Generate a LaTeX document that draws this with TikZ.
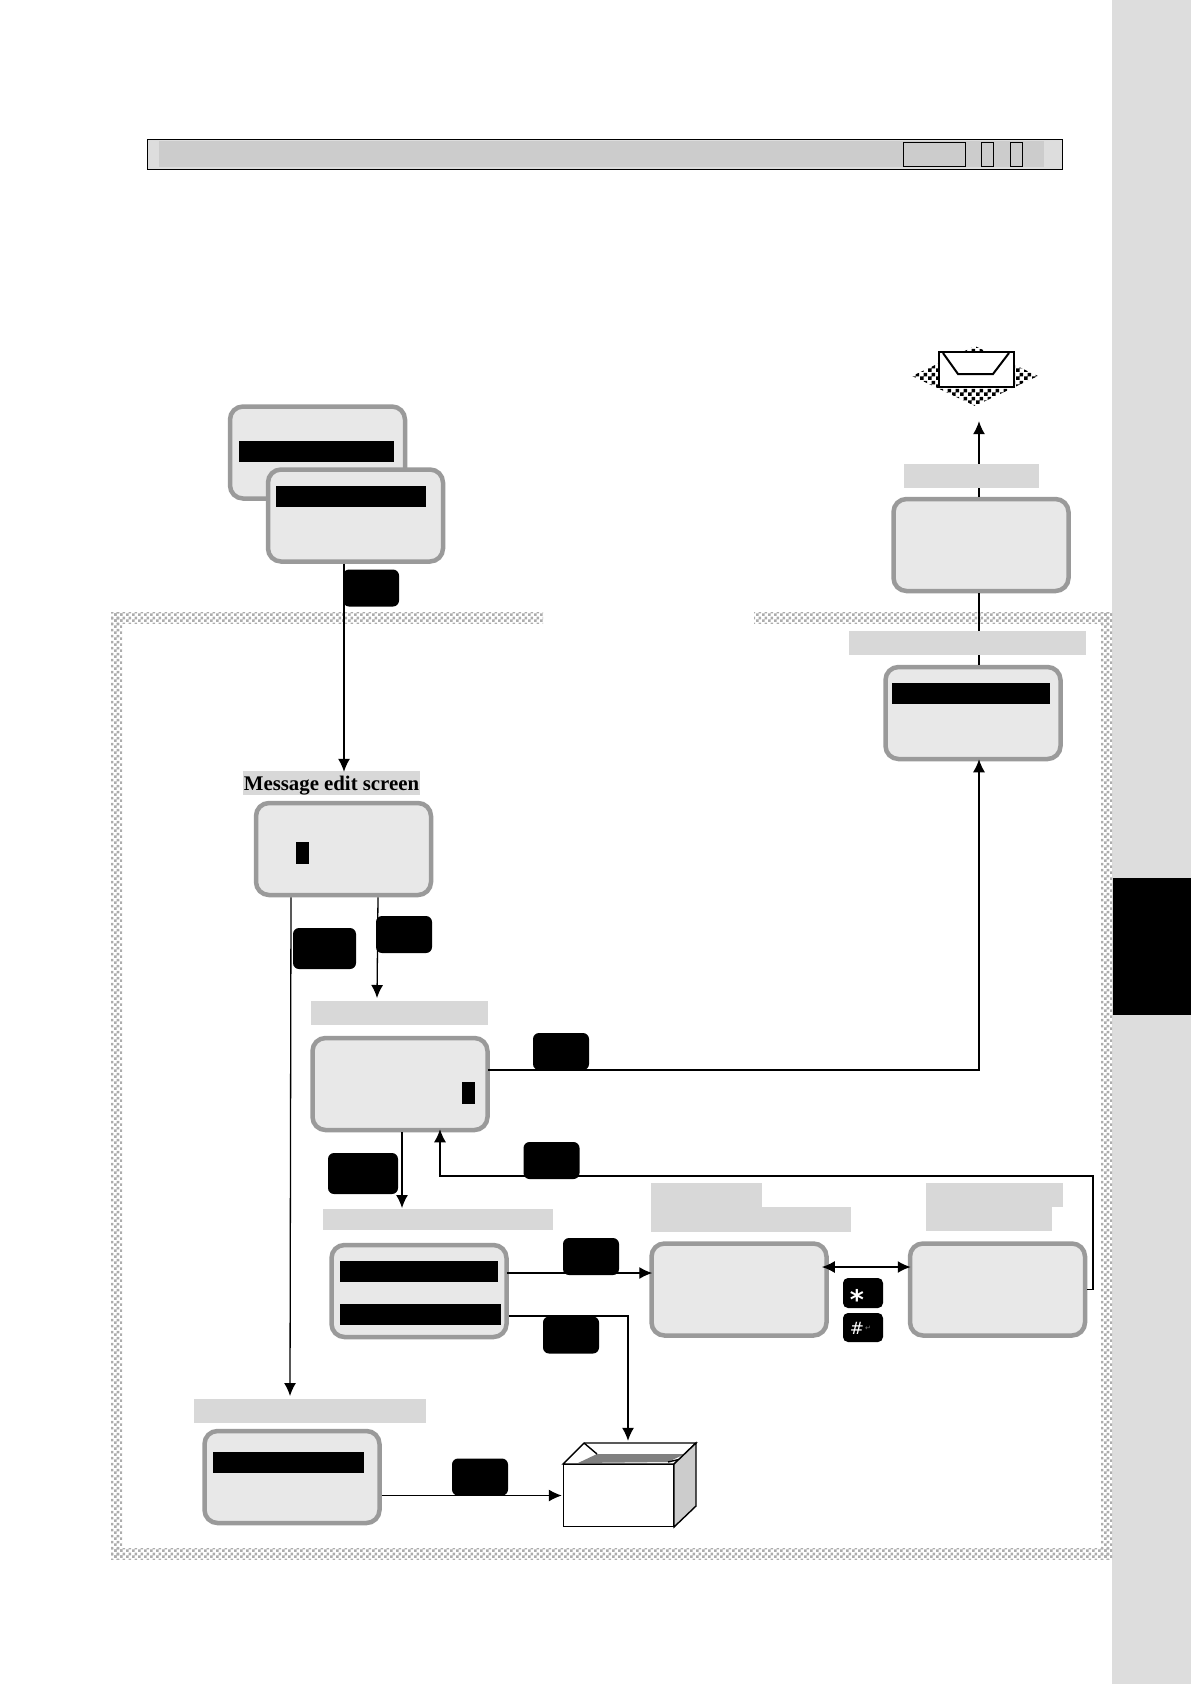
\documentclass[tikz,border=0pt]{standalone}
\usepackage{fontspec}
\setmainfont{Liberation Serif}
\newfontfamily\symbfont{DejaVu Sans}
\usepackage{tikz}
\usetikzlibrary{shapes.geometric,arrows.meta,positioning,patterns}
\definecolor{myscreen}{RGB}{232,232,232}
\definecolor{myrim}{RGB}{154,154,154}
\definecolor{mylabel}{RGB}{216,216,216}
\definecolor{mybar}{RGB}{204,204,204}
\definecolor{myside}{RGB}{221,221,221}
\pgfdeclarepatternformonly{fineboard}{\pgfqpoint{0pt}{0pt}}{\pgfqpoint{6pt}{6pt}}{\pgfqpoint{6pt}{6pt}}{
  \pgfpathrectangle{\pgfqpoint{0pt}{0pt}}{\pgfqpoint{3pt}{3pt}}
  \pgfpathrectangle{\pgfqpoint{3pt}{3pt}}{\pgfqpoint{3pt}{3pt}}
  \pgfusepath{fill}
}
\pgfdeclarepatternformonly{coarseboard}{\pgfqpoint{0pt}{0pt}}{\pgfqpoint{8pt}{8pt}}{\pgfqpoint{8pt}{8pt}}{
  \pgfpathrectangle{\pgfqpoint{0pt}{0pt}}{\pgfqpoint{4pt}{4pt}}
  \pgfpathrectangle{\pgfqpoint{4pt}{4pt}}{\pgfqpoint{4pt}{4pt}}
  \pgfusepath{fill}
}

\begin{document}
\begin{tikzpicture}[x=1pt,y=-1pt,
  screen/.style={draw=myrim,fill=myscreen,line width=4.5pt,rounded corners=13pt,minimum width=175pt,minimum height=92pt,inner sep=0pt},
  hilite/.style={fill=black,inner sep=0pt,minimum width=#1,minimum height=21pt},
  cursor/.style={fill=black,inner sep=0pt,minimum width=13pt,minimum height=22pt},
  keycap/.style={fill=black,text=white,rounded corners=6pt,inner sep=0pt,minimum width=56pt,minimum height=37pt},
  caption/.style={fill=mylabel,inner sep=0pt,minimum height=24pt,minimum width=#1},
  flow/.style={line width=1.3pt,-{Latex[length=13pt,width=12pt]}},
  flowboth/.style={line width=1.8pt,{Latex[length=13pt,width=12pt]}-{Latex[length=13pt,width=12pt]}},
  plain/.style={line width=1.3pt}
]
\useasboundingbox (0,0) rectangle (1191,1684);

% the side strip and the tab
\fill [myside] (1112,0) rectangle (1191,1684);
\fill [black] (1113,878) rectangle (1191,1015);

% the title bar
\node [draw,fill=myside,line width=1pt,minimum width=915pt,minimum height=30pt,inner sep=0pt] (titlebar) at (605,154) {};
\node [fill=mybar,minimum width=885pt,minimum height=26pt,inner sep=0pt] (titlefill) at (601.5,154) {};
\foreach \x/\w/\n in {934/62/a,987/12/b,1016/12/c}
  \node [draw,fill=mybar,line width=1pt,minimum width=\w pt,minimum height=24pt,inner sep=0pt] (tab\n) at (\x,154) {};

% the dotted frame
\foreach \xa/\ya/\xb/\yb in {111/612/543/623,754/612/1112/623,111/612/122/1559,1101/612/1112/1559,111/1548/1112/1559}
  \fill [pattern=fineboard,pattern color=gray!65] (\xa,\ya) rectangle (\xb,\yb);

% the screens
\node [screen] (menuback) at (317.5,452.5) {};
\node [hilite=155pt] (menubackbar) at (316.5,451) {};
\node [screen] (menufront) at (355.5,515.5) {};
\node [hilite=150pt] (menufrontbar) at (351,496.5) {};
\node [screen] (editscreen) at (343.5,849) {};
\node [cursor] (editcursor) at (302,853) {};
\node [screen] (donescreen) at (400,1084) {};
\node [cursor] (donecursor) at (468,1093) {};
\node [screen] (sendscreen) at (973,713) {};
\node [hilite=158pt] (sendbar) at (971,693) {};
\node [screen] (sentscreen) at (981,545) {};
\node [screen] (savescreen) at (419,1291) {};
\node [hilite=158pt] (savebara) at (419,1271) {};
\node [hilite=161pt] (savebarb) at (420.5,1314.5) {};
\node [screen] (viewa) at (739,1289.5) {};
\node [screen] (viewb) at (997.5,1289.5) {};
\node [screen] (endscreen) at (292,1477) {};
\node [hilite=151pt] (endbar) at (288.5,1462.5) {};

% the mail
\node [diamond,pattern=coarseboard,pattern color=black,inner sep=0pt,minimum width=126pt,minimum height=60pt] (maildiamond) at (975,376) {};
\node [draw,fill=white,line width=2pt,minimum width=75pt,minimum height=35pt,inner sep=0pt] (mailcover) at (976,369) {};
\draw [line width=2pt] (943,353) -- (958,374) -- (993,374) -- (1009,353);

% the box
\draw [line width=1.4pt,fill=white] (563,1464) -- (584,1443) -- (696,1443) -- (674,1464) -- cycle;
\fill [gray] (578,1463) -- (597,1454) -- (685,1454) -- (668,1462) -- cycle;
\draw [line width=1.4pt] (584,1443) -- (597,1454);
\draw [line width=1.4pt] (668,1462) -- (685,1458) -- (696,1443);
\draw [line width=1.4pt,fill=mybar] (674,1464) -- (696,1443) -- (696,1506) -- (674,1527) -- cycle;
\node [draw,fill=white,line width=1.4pt,minimum width=110pt,minimum height=62pt,inner sep=0pt] (carton) at (618.5,1495.5) {};

% the edit label
\node [caption=177pt,text height=18pt,text depth=4pt,font=\fontsize{20.8}{24}\selectfont\bfseries] (editlabel) at (331.5,783) {Message edit screen};

% the edges
\draw [flow] ([xshift=-11.5pt]menufront.south) -- ([xshift=12.5pt,yshift=-1pt]editlabel.north);
\draw [flow] ([xshift=-52.5pt]editscreen.south) -- (290,1396);
\draw [flow] ([xshift=34.5pt]editscreen.south) -- ([xshift=-23pt,yshift=3pt]donescreen.north |- 0,1001);
\draw [flow] ([xshift=-2pt]donescreen.east |- 0,1070) -| ([xshift=6pt,yshift=2pt]sendscreen.south);
\draw [plain] ([xshift=6pt]sendscreen.north) -- ([xshift=-2pt]sentscreen.south);
\draw [flow] ([xshift=-2pt]sentscreen.north) -- ([xshift=4pt,yshift=-15pt]maildiamond.south);
\draw [flow] ([xshift=2pt]donescreen.south) -- (402,1208);
\draw [flow] ([xshift=-2pt]savescreen.east |- 0,1273) -- ([xshift=3pt]viewa.west |- 0,1273);
\draw [flow] (savescreen.east |- 0,1316) -| ([xshift=9.5pt,yshift=23pt]carton.north);
\draw [flowboth] ([xshift=-7pt]viewa.east |- 0,1267) -- ([xshift=3pt]viewb.west |- 0,1267);
\draw [flow] (viewb.east) -| (1093,1176) -| ([xshift=40pt,yshift=3pt]donescreen.south);
\draw [flow] (endscreen.east |- carton.west) -- ([xshift=-1pt]carton.west);

% the grey labels
\node [caption=135pt] (sentlabel) at (971.5,475.5) {};
\node [caption=237pt] (sendlabel) at (967.5,642.5) {};
\node [caption=177pt] (donelabel) at (399.5,1013) {};
\node [caption=230pt,minimum height=21pt] (savelabel) at (438,1219.5) {};
\node [caption=111pt] (viewalabel) at (706.5,1195) {};
\node [caption=200pt,minimum height=25pt] (viewblabel) at (751,1219.5) {};
\node [caption=137pt] (viewclabel) at (994.5,1195) {};
\node [caption=126pt] (viewdlabel) at (989,1219) {};
\node [caption=232pt] (endlabel) at (310,1411) {};

% the keys
\node [keycap] (keysel) at (371,588) {};
\node [keycap,minimum width=63pt,minimum height=41pt] (keyend) at (324.5,948.5) {};
\node [keycap] (keydone) at (404,934.5) {};
\node [keycap] (keysend) at (561,1051.5) {};
\node [keycap,minimum width=70pt,minimum height=41pt] (keysave) at (363,1173.5) {};
\node [keycap] (keyback) at (551.5,1160.5) {};
\node [keycap] (keyview) at (591,1256.5) {};
\node [keycap] (keyfile) at (571,1335) {};
\node [keycap] (keydisk) at (480,1477) {};
\node [keycap,minimum width=40pt,minimum height=30pt,rounded corners=5pt] (keystar) at (863,1293) {};
\node [keycap,minimum width=40pt,minimum height=29pt,rounded corners=5pt] (keyhash) at (863,1327.5) {};
\node [text=white,inner sep=0pt,font=\symbfont\bfseries\fontsize{27}{27}\selectfont] (starmark) at (857,1299) {*};
\node [text=white,inner sep=0pt,font=\symbfont\fontsize{17}{17}\selectfont] (hashmark) at (857,1328) {\#};
\node [text=gray,inner sep=0pt,font=\symbfont\fontsize{7}{7}\selectfont,right=0.5pt of hashmark] (returnmark) {↵};
\end{tikzpicture}
\end{document}
